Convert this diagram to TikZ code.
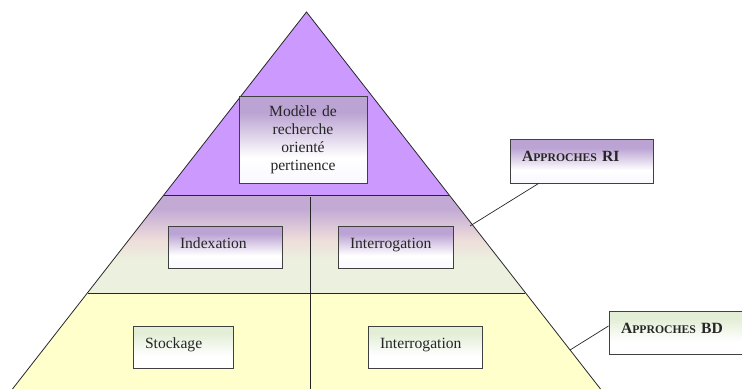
\documentclass[tikz,border=0pt]{standalone}
\usepackage{fontspec}
\setmainfont{Liberation Serif}
\usetikzlibrary{shadows}

\definecolor{violetsommet}{HTML}{CC99FF}
\definecolor{lilamilieu}{HTML}{C2AAD5}
\definecolor{rosemilieu}{HTML}{EEDDDA}
\definecolor{vertmilieu}{HTML}{EBF1DE}
\definecolor{jaunebase}{HTML}{FFFFCC}
\definecolor{lilaboite}{HTML}{BBA3D3}
\definecolor{vertboite}{HTML}{E3EED6}
\definecolor{blancboite}{HTML}{F8F8FF}

\pgfdeclareverticalshading{fondmilieu}{100bp}{color(0bp)=(vertmilieu); color(42bp)=(vertmilieu); color(52bp)=(rosemilieu); color(68bp)=(lilamilieu); color(100bp)=(lilamilieu)}
\pgfdeclareverticalshading{boitelila}{100bp}{color(0bp)=(blancboite); color(25bp)=(blancboite); color(40bp)=(white); color(66bp)=(lilaboite); color(100bp)=(lilaboite)}
\pgfdeclareverticalshading{boitevert}{100bp}{color(0bp)=(white); color(25bp)=(white); color(40bp)=(white); color(66bp)=(vertboite); color(100bp)=(vertboite)}

\newcommand\approche[1]{{\bfseries A{\fontsize{11.7}{14}\selectfont PPROCHES} #1}}

\begin{document}
\begin{tikzpicture}[x=1pt,y=1pt,
	bord/.style={draw=black!85, line width=.8pt},
	cadre/.style={draw=black!75, line width=1pt, shading=boitelila, drop shadow={shadow xshift=.7pt, shadow yshift=-.7pt, fill=black!45, opacity=1}, inner xsep=12pt, inner ysep=0pt, font=\fontsize{15.6}{18}\selectfont, text=black!85},
	boite/.style={cadre, align=left, text height=22pt, text depth=20pt},
	boiteverte/.style={boite, shading=boitevert}]

	\useasboundingbox (0,0) rectangle (742,389);
	\clip (0,0) rectangle (742,389);

	% Fonds
	\fill[violetsommet] (306.5,377) -- (164,194) -- (449,194) -- cycle;
	\shade[shading=fondmilieu] (164,194) -- (449,194) -- (525,96) -- (88,96) -- cycle;
	\fill[jaunebase] (88,96) -- (525,96) -- (600.5,0) -- (12.5,0) -- cycle;

	% Contour
	\draw[bord] (12.5,0) -- (306.5,377) -- (600.5,0);
	\draw[bord] (164,194) -- (449,194);
	\draw[bord] (88,96) -- (525,96);
	\draw[bord] (310,192) -- (310,0);

	% Boites
	\node[cadre, align=center, text width=104pt, minimum height=86pt] (modele) at (303,249) {Mod\`ele de\\recherche\\orient\'e\\pertinence};
	\node[boite, text width=90pt] (indexation) at (225,142) {Indexation};
	\node[boite, text width=91pt] (interRI) at (395.5,142) {Interrogation};
	\node[boiteverte, text width=76pt] (stockage) at (183,42) {Stockage};
	\node[boiteverte, text width=90pt] (interBD) at (425,42) {Interrogation};

	% Approches
	\node[boite, text width=119pt, text depth=21pt] (approchesRI) at (581.5,227.5) {\approche{RI}};
	\node[boiteverte, text width=140pt, text depth=21pt] (approchesBD) at (691,56.5) {\approche{BD}};

	\coordinate (bordRI) at (470,163);
	\coordinate (bordBD) at (570,39);
	\draw[bord, line width=.7pt] ([xshift=-43pt]approchesRI.south) -- (bordRI);
	\draw[bord, line width=.7pt] ([yshift=6.5pt]approchesBD.west) -- (bordBD);

\end{tikzpicture}
\end{document}
